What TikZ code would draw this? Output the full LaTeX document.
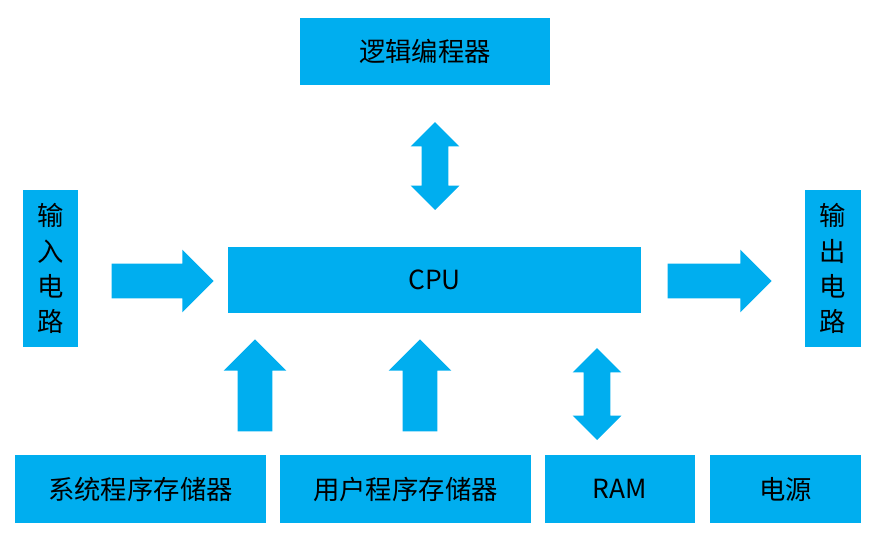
\documentclass[tikz,border=0pt]{standalone}
\usepackage{fontspec}
\setmainfont{Noto Sans CJK SC}
\usetikzlibrary{shapes.arrows,positioning}
\definecolor{plcblue}{RGB}{0,174,239}
\begin{document}
\begin{tikzpicture}
	[
		x=0.02cm, y=-0.02cm,
		B/.style = {rectangle, align=center, draw=none, fill=plcblue, inner sep=0pt, font=\fontsize{15}{20}\selectfont},
		S/.style = {single arrow, draw=none, fill=plcblue, inner xsep=0pt, inner ysep=0.34cm, single arrow head extend=0.28cm},
		D/.style = {double arrow, draw=none, fill=plcblue, inner xsep=0pt, inner ysep=0.26cm, double arrow head extend=0.22cm},
	]
	\useasboundingbox (0,0) rectangle (884,538);

	% blocks
	\node[B, minimum width=5.0cm, minimum height=1.34cm] (prog) at (425,51.5) {逻辑编程器};
	\node[B, minimum width=8.26cm, minimum height=1.32cm] (cpu) at (434.5,280) {CPU};
	\node[B, minimum width=1.1cm, minimum height=3.14cm] (in) at (50.5,268.5) {输\\入\\电\\路};
	\node[B, minimum width=1.12cm, minimum height=3.14cm] (out) at (833,268.5) {输\\出\\电\\路};

	% bottom row
	\node[B, minimum width=5.02cm, minimum height=1.36cm] (sys) at (140.5,489) {系统程序存储器};
	\node[B, minimum width=5.02cm, minimum height=1.36cm] (usr) at (405.5,489) {用户程序存储器};
	\node[B, minimum width=3.0cm, minimum height=1.36cm] (ram) at (620,489) {RAM};
	\node[B, minimum width=3.02cm, minimum height=1.36cm] (pwr) at (785.5,489) {电源};

	% block arrows
	\node[D, rotate=90, minimum height=1.76cm] (a1) at (435,166) {};
	\node[S, minimum height=2.04cm] (a2) at (154,281) {};
	\node[S, minimum height=2.08cm] (a3) at (711,281) {};
	\node[S, rotate=90, minimum height=1.84cm] (a4) at (255,394) {};
	\node[S, rotate=90, minimum height=1.84cm] (a5) at (420,394) {};
	\node[D, rotate=90, minimum height=1.84cm] (a6) at (597,394) {};

\end{tikzpicture}
\end{document}
